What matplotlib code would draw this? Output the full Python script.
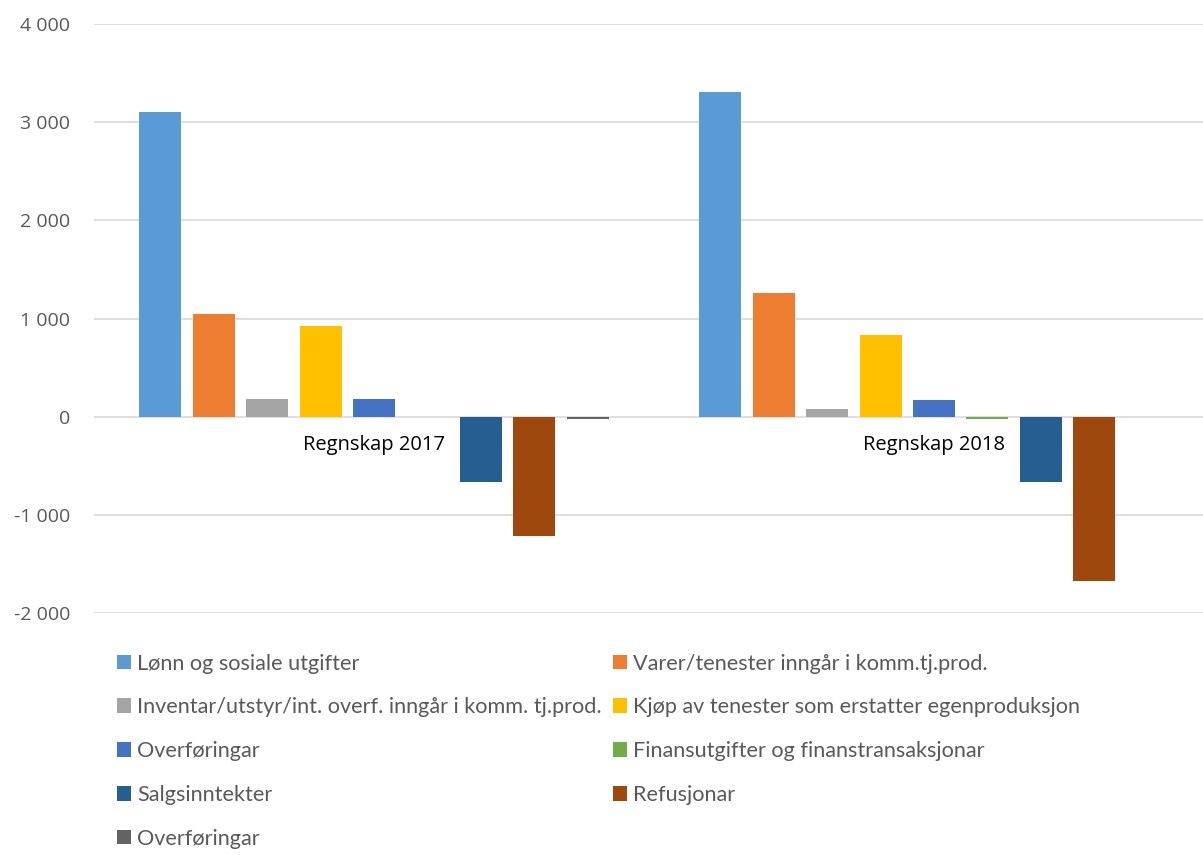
import numpy as np
import matplotlib.pyplot as plt
from matplotlib.patches import Patch

# data (thousand NOK)
years = ["Regnskap 2017", "Regnskap 2018"]
series = ["Lønn og sosiale utgifter",
          "Varer/tenester inngår i komm.tj.prod.",
          "Inventar/utstyr/int. overf. inngår i komm. tj.prod.",
          "Kjøp av tenester som erstatter egenproduksjon",
          "Overføringar",
          "Finansutgifter og finanstransaksjonar",
          "Salgsinntekter",
          "Refusjonar",
          "Overføringar"]
vals_2017 = [3100, 1050, 175, 925, 185, 0, -670, -1220, -25]
vals_2018 = [3305, 1260, 80, 835, 168, -22, -670, -1670, 0]
colors = ["#5B9BD5", "#ED7D31", "#A5A5A5", "#FFC000", "#4472C4",
          "#70AD47", "#255E91", "#9E480E", "#636363"]

fig = plt.figure(figsize=(12.03, 8.55), dpi=100)
W, H = 1203, 855
ax = fig.add_axes([94 / W, (855 - 613) / H, 1120 / W, (613 - 24) / H])

x = np.arange(len(years))
step = 0.0955
bw = 0.075
n = len(series)
handles = []
for i in range(n):
    off = (i - (n - 1) / 2) * step
    v = [vals_2017[i], vals_2018[i]]
    ax.bar(x + off, v, bw, color=colors[i], zorder=3)
    handles.append(Patch(facecolor=colors[i], label=series[i]))

ax.set_xlim(-0.5, 1.5)
ax.set_ylim(-2000, 4000)
ax.set_yticks(range(-2000, 4001, 1000))
ax.set_yticklabels([f"{t:,}".replace(",", " ") for t in range(-2000, 4001, 1000)],
                   fontsize=14, color="#595959", family="Open Sans")
ax.tick_params(axis="y", length=0, pad=17)
ax.set_xticks([])
ax.grid(axis="y", color="#D9D9D9", linewidth=1.2, zorder=0)
for s in ax.spines.values():
    s.set_visible(False)

# category labels just below the zero line
for xi, lab in zip(x, years):
    ax.text(xi, -190, lab, ha="center", va="top", fontsize=14.5,
            color="#000000", family="Open Sans", zorder=4)

# legend, filled row by row like the original
order = [0, 2, 4, 6, 8, 1, 3, 5, 7]
leg = fig.legend([handles[k] for k in order], [series[k] for k in order],
                 ncol=2, loc="upper left", bbox_to_anchor=(97 / W, (855 - 634) / H),
                 frameon=False, handlelength=0.65, handleheight=0.65,
                 handletextpad=0.3, columnspacing=0.5, labelspacing=1.1,
                 prop={"family": "Lato", "size": 15.6})
for t in leg.get_texts():
    t.set_color("#595959")

fig.savefig("out.png", dpi=100)
